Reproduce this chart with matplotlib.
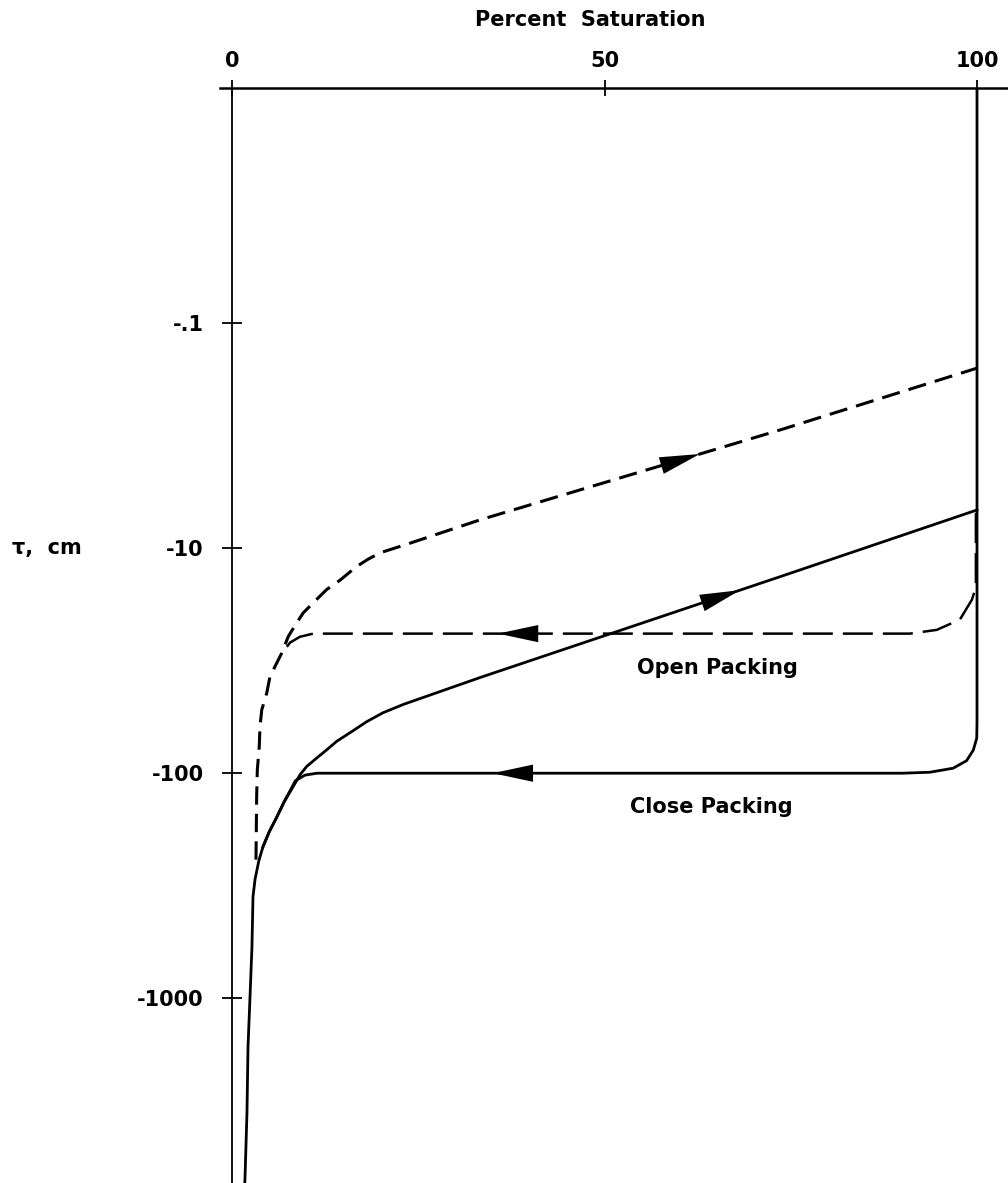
import numpy as np
import matplotlib
matplotlib.use("Agg")
import matplotlib.pyplot as plt
from matplotlib.ticker import NullLocator

# Percent saturation vs. magnitude of tension (cm) for each branch of the loops.
# Close packing, drainage: down the saturated face, across at the air-entry
# tension, then down to residual saturation.
close_drain_sat = [100, 100, 99.96, 99.5, 98.6, 96.8, 93.7, 90.0, 11.4, 9.8,
                   8.5, 8.19, 7.0, 6.04, 5.0, 4.16, 3.6, 3.1, 2.82, 2.68, 2.42,
                   2.15, 2.01, 1.74, 1.70]
close_drain_tau = [0.0907, 59.6, 70.0, 79.0, 88.0, 95.0, 99.0, 100, 100, 102,
                   108, 113, 134, 156, 182, 212, 245, 295, 353, 589, 982,
                   1637, 3214, 6368, 6700]

# Close packing, wetting
close_wet_sat = [4.16, 5.0, 6.04, 7.0, 8.23, 9.13, 10.03, 11.36, 12.7, 14.05,
                 15.84, 18.1, 20.27, 23.0, 33.3, 73.6, 100]
close_wet_tau = [212, 182, 156, 134, 114.4, 101.6, 93.3, 85.7, 78.8, 72.2,
                 66.1, 59.0, 53.9, 49.5, 37.6, 13.4, 6.78]

# Open packing, wetting
open_wet_sat = [3.22, 3.31, 3.40, 3.66, 3.76, 3.99, 4.66, 5.1, 5.77, 6.67,
                7.56, 8.68, 9.57, 11.3, 12.7, 14.5, 16.7, 18.3, 19.9, 23.2,
                33.3, 73.6, 100]
open_wet_tau = [242, 127, 96.6, 76.0, 62.0, 52.4, 44.1, 37.2, 33.6, 29.3,
                24.7, 21.5, 19.4, 17.0, 15.3, 13.9, 12.1, 11.2, 10.5, 9.69,
                7.50, 2.99, 1.59]

# Open packing, drainage
open_drain_sat = [99.85, 99.85, 99.3, 97.7, 94.6, 91.0, 10.9, 9.1, 7.8, 6.85]
open_drain_tau = [7.0, 15.0, 17.0, 20.8, 23.1, 24.0, 24.0, 24.8, 26.3, 28.9]

# Arrow heads: (branch, saturation at tip, saturation at tail)
arrow_marks = [
    ("open_wet", 62.8, 58.8),
    ("close_wet", 68.2, 63.2),
    ("open_drain", 35.7, 41.1),
    ("close_drain", 35.0, 40.0),
]

x_ticks = [0, 50, 100]
y_ticks = [1, 10, 100, 1000]
y_tick_labels = ["-.1", "-10", "-100", "-1000"]

plt.rcParams["font.family"] = "DejaVu Sans"
plt.rcParams["font.weight"] = "bold"
plt.rcParams["lines.solid_joinstyle"] = "round"
plt.rcParams["lines.dash_joinstyle"] = "round"

fig = plt.figure(figsize=(10.08, 11.83), dpi=100)
ax = fig.add_axes([220 / 1008, 0, 788 / 1008, 1095 / 1183])

branches = {
    "close_drain": (close_drain_sat, close_drain_tau),
    "close_wet": (close_wet_sat, close_wet_tau),
    "open_wet": (open_wet_sat, open_wet_tau),
    "open_drain": (open_drain_sat, open_drain_tau),
}

ax.plot(close_drain_sat, close_drain_tau, color="black", lw=2.0)
ax.plot(close_wet_sat, close_wet_tau, color="black", lw=2.0)
ax.plot(open_wet_sat, open_wet_tau, color="black", lw=2.2, dashes=(6, 3))
ax.plot(open_drain_sat, open_drain_tau, color="black", lw=1.8, dashes=(12, 4))


def on_branch(name, s):
    sat, tau = branches[name]
    sat = np.asarray(sat, float)
    lt = np.log10(np.asarray(tau, float))
    order = np.argsort(sat)
    return 10 ** np.interp(s, sat[order], lt[order])


for name, s_tip, s_tail in arrow_marks:
    ax.annotate("", xy=(s_tip, on_branch(name, s_tip)),
                xytext=(s_tail, on_branch(name, s_tail)),
                arrowprops=dict(arrowstyle="-|>,head_length=2.9,head_width=0.62",
                                mutation_scale=10, color="black", lw=0,
                                shrinkA=0, shrinkB=0))

ax.text(65.2, 34.1, "Open Packing", ha="center", va="center", fontsize=15)
ax.text(64.4, 141, "Close Packing", ha="center", va="center", fontsize=15)

ax.set_yscale("log")
ax.set_xlim(-1.61, 104.16)
ax.set_ylim(6600, 0.0907)

for side in ("right", "bottom"):
    ax.spines[side].set_visible(False)
ax.spines["left"].set_position(("data", 0))
ax.spines["left"].set_linewidth(1.3)
ax.spines["top"].set_linewidth(1.8)

ax.xaxis.tick_top()
ax.set_xticks(x_ticks)
ax.set_xticklabels([str(v) for v in x_ticks])
ax.tick_params(axis="x", direction="inout", length=11, width=1.3, pad=7,
               labelsize=15)

ax.set_yticks(y_ticks)
ax.set_yticklabels(y_tick_labels)
ax.yaxis.set_minor_locator(NullLocator())
ax.tick_params(axis="y", direction="inout", length=15, width=1.3, pad=13,
               labelsize=15)

fig.text(590 / 1008, 1 - 20 / 1183, "Percent  Saturation", ha="center",
         va="center", fontsize=15)
fig.text(12 / 1008, 1 - 548 / 1183, "τ,  cm", ha="left", va="center",
         fontsize=15)

fig.savefig("out.png", dpi=100)
